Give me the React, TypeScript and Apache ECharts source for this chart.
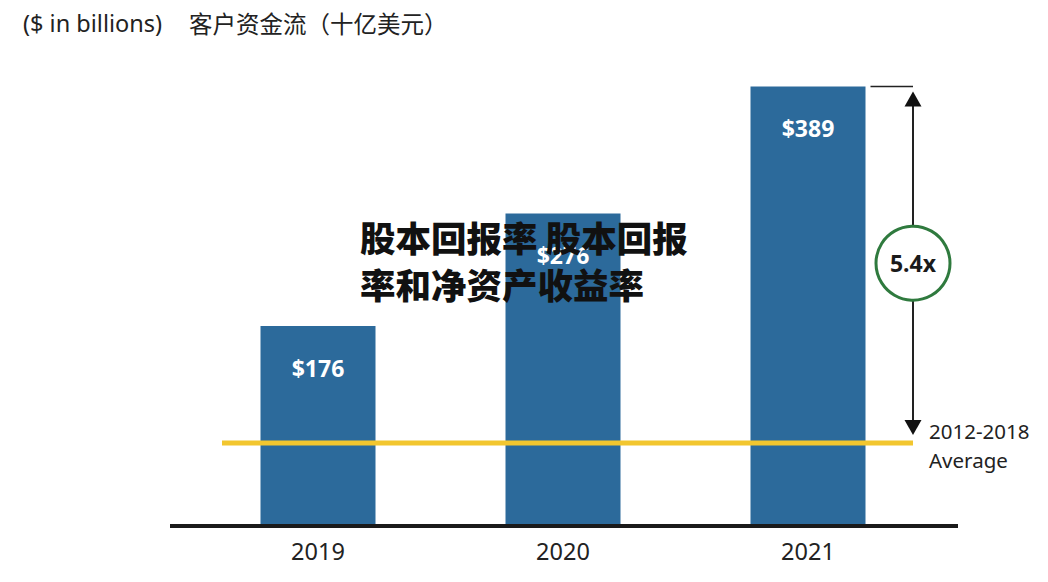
import React, { useEffect, useRef } from "react";
import * as echarts from "echarts";

const categories = ["2019", "2020", "2021"];
const values = [176, 276, 389];
const barLabels = ["$176", "$276", "$389"];
const averageValue = 72;
const multipleLabel = "5.4x";
const averageLabel = "2012-2018\nAverage";
const unitTitle = "($ in billions)";
const cnTitle = "客户资金流（十亿美元）";
const watermark = "股本回报率 股本回报\n率和净资产收益率";

export default function App() {
  const ref = useRef<HTMLDivElement>(null);
  useEffect(() => {
    if (!ref.current) return;
    const chart = echarts.init(ref.current, null, { renderer: "svg" });
    const sans = "'Noto Sans', 'Open Sans', sans-serif";
    chart.setOption({
      animation: false,
      backgroundColor: "#ffffff",
      title: [
        {
          text: unitTitle,
          left: 18,
          top: 6,
          textStyle: { fontFamily: sans, fontSize: 23.5, fontWeight: "normal", color: "#222" },
        },
        {
          text: cnTitle,
          left: 184,
          top: 6,
          textStyle: { fontFamily: "'Noto Sans CJK SC', sans-serif", fontSize: 23.5, fontWeight: "normal", color: "#222" },
        },
      ],
      grid: { left: 195.5, right: 117.5, top: 74, bottom: 58, containLabel: false },
      xAxis: {
        type: "category",
        data: categories,
        axisLine: { show: false },
        axisTick: { show: false },
        axisLabel: { fontFamily: sans, fontSize: 23.5, color: "#222", margin: 15 },
      },
      yAxis: {
        type: "value",
        min: 0,
        max: 400,
        show: false,
        splitLine: { show: false },
      },
      series: [
        {
          type: "bar",
          data: values,
          barWidth: 115,
          itemStyle: { color: "#2c6a9b" },
          label: {
            show: true,
            position: "insideTop",
            distance: 30,
            formatter: (p: any) => barLabels[p.dataIndex],
            fontFamily: sans,
            fontWeight: "bold",
            fontSize: 23,
            color: "#ffffff",
          },
        },
      ],
    });

    const y0 = chart.convertToPixel({ yAxisIndex: 0 }, 0) as number;
    const yAvg = chart.convertToPixel({ yAxisIndex: 0 }, averageValue) as number;
    const yTop = chart.convertToPixel({ yAxisIndex: 0 }, values[2]) as number;
    const xLast = chart.convertToPixel({ xAxisIndex: 0 }, categories[2]) as number;
    const ax = 913;
    const topTip = yTop + 5;
    const botTip = yAvg - 8;
    const cy = (topTip + botTip) / 2;
    const r = 37;

    chart.setOption({
      graphic: [
        { type: "line", z: 10, shape: { x1: 170, y1: y0 + 2, x2: 958, y2: y0 + 2 }, style: { stroke: "#1a1a1a", lineWidth: 4 } },
        { type: "line", z: 10, shape: { x1: 222, y1: yAvg, x2: ax, y2: yAvg }, style: { stroke: "#f2c62f", lineWidth: 5 } },
        { type: "line", z: 10, shape: { x1: xLast + 57.5 + 5, y1: yTop, x2: ax, y2: yTop }, style: { stroke: "#222", lineWidth: 1.5 } },
        { type: "line", z: 10, shape: { x1: ax, y1: topTip + 10, x2: ax, y2: botTip - 10 }, style: { stroke: "#222", lineWidth: 2 } },
        { type: "polygon", z: 10, shape: { points: [[ax - 8.5, topTip + 15], [ax + 8.5, topTip + 15], [ax, topTip]] }, style: { fill: "#111" } },
        { type: "polygon", z: 10, shape: { points: [[ax - 8.5, botTip - 15], [ax + 8.5, botTip - 15], [ax, botTip]] }, style: { fill: "#111" } },
        { type: "circle", z: 11, shape: { cx: ax, cy, r }, style: { fill: "#fff", stroke: "#2f7a3e", lineWidth: 3 } },
        {
          type: "text", z: 12, x: ax, y: cy,
          style: { text: multipleLabel, fontFamily: sans, fontWeight: "bold", fontSize: 23, fill: "#1a1a1a", align: "center", verticalAlign: "middle" },
        },
        {
          type: "text", z: 12, x: 929, y: botTip - 19,
          style: { text: averageLabel, fontFamily: sans, fontSize: 20.5, lineHeight: 29, fill: "#222", align: "left", verticalAlign: "top" },
        },
        {
          type: "text", z: 20, x: 360, y: 213,
          style: { text: watermark, fontFamily: "'Noto Sans CJK SC', sans-serif", fontWeight: 900, fontSize: 35.5, lineHeight: 47, fill: "#111", align: "left", verticalAlign: "top" },
        },
      ],
    });
    return () => chart.dispose();
  }, []);
  return <div ref={ref} style={{ width: 1048, height: 582, position: "absolute", left: 0, top: 0 }} />;
}
